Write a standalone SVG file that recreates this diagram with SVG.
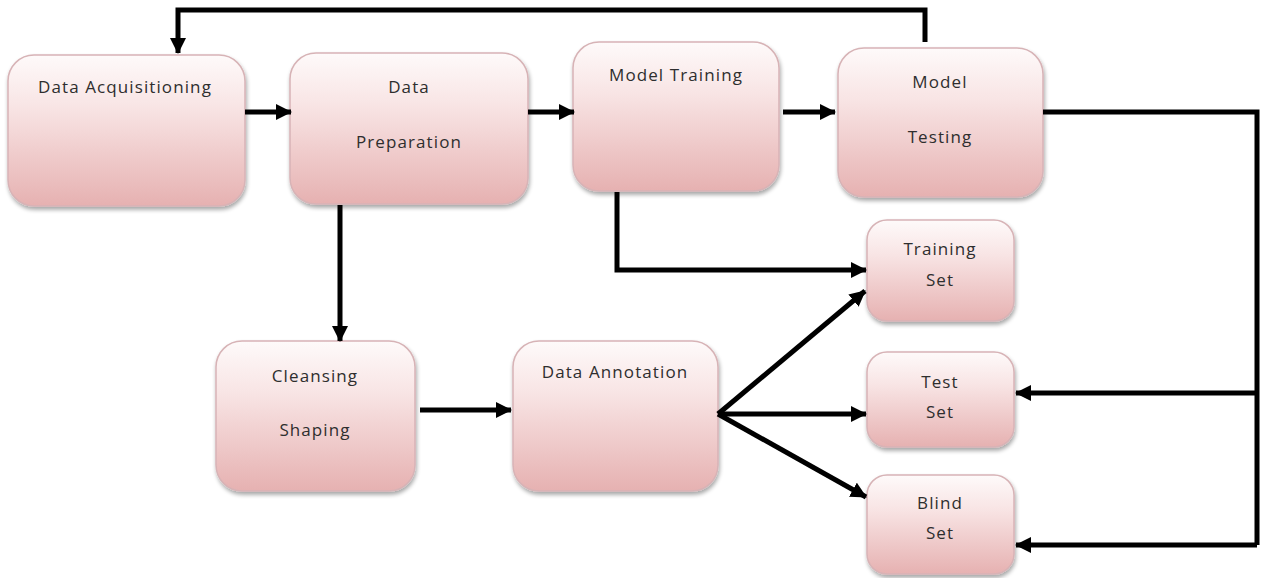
<svg xmlns="http://www.w3.org/2000/svg" width="1262" height="578" viewBox="0 0 1262 578">
<defs>
<linearGradient id="g" x1="0" y1="0" x2="0" y2="1">
<stop offset="0" stop-color="#fefafa"/>
<stop offset="0.35" stop-color="#f8e4e4"/>
<stop offset="1" stop-color="#e6b1b1"/>
</linearGradient>
<filter id="sh" x="-10%" y="-10%" width="120%" height="130%">
<feGaussianBlur in="SourceAlpha" stdDeviation="2"/>
<feOffset dx="1" dy="3"/>
<feComponentTransfer><feFuncA type="linear" slope="0.35"/></feComponentTransfer>
<feMerge><feMergeNode/><feMergeNode in="SourceGraphic"/></feMerge>
</filter>
<marker id="ah" markerUnits="userSpaceOnUse" markerWidth="16" markerHeight="16" viewBox="0 0 16 16" refX="15" refY="8" orient="auto">
<path d="M0,0 L16,8 L0,16 Z" fill="#000"/>
</marker>
</defs>
<style>
.box{fill:url(#g);stroke:#d7b3b6;stroke-width:1.5;filter:url(#sh)}
.t{font-family:"Open Sans","Liberation Sans",sans-serif;font-size:17px;fill:#2e2e2e;text-anchor:middle;letter-spacing:1.1px}
.c{fill:none;stroke:#000;stroke-width:5}
.a{marker-end:url(#ah)}
</style>
<rect width="1262" height="578" fill="#fff"/>
<g id="n-acq"><rect class="box" x="8" y="55" width="237" height="151" rx="26"/><text class="t" x="125" y="93">Data Acquisitioning</text></g>
<g id="n-prep"><rect class="box" x="290" y="53" width="238" height="151" rx="26"/><text class="t" x="409" y="93">Data</text><text class="t" x="409" y="148">Preparation</text></g>
<g id="n-train"><rect class="box" x="573" y="42" width="206" height="149" rx="26"/><text class="t" x="676" y="81">Model Training</text></g>
<g id="n-test"><rect class="box" x="838" y="48" width="205" height="149" rx="26"/><text class="t" x="940" y="88">Model</text><text class="t" x="940" y="143">Testing</text></g>
<g id="n-trainset"><rect class="box" x="867" y="220" width="147" height="101" rx="20"/><text class="t" x="940" y="255">Training</text><text class="t" x="940" y="286">Set</text></g>
<g id="n-testset"><rect class="box" x="867" y="352" width="147" height="95" rx="20"/><text class="t" x="940" y="388">Test</text><text class="t" x="940" y="418">Set</text></g>
<g id="n-blindset"><rect class="box" x="867" y="475" width="147" height="99" rx="20"/><text class="t" x="940" y="509">Blind</text><text class="t" x="940" y="539">Set</text></g>
<g id="n-cleanse"><rect class="box" x="216" y="341" width="199" height="150" rx="26"/><text class="t" x="315" y="382">Cleansing</text><text class="t" x="315" y="436">Shaping</text></g>
<g id="n-annot"><rect class="box" x="513" y="341" width="205" height="150" rx="26"/><text class="t" x="615" y="378">Data Annotation</text></g>
<g id="connectors">
<path class="c a" d="M925,42 V10 H178 V53"/>
<path class="c a" d="M245,112 H291"/>
<path class="c a" d="M528,112 H574"/>
<path class="c a" d="M783,112 H835"/>
<path class="c a" d="M340,205 V341"/>
<path class="c a" d="M617,192 V270 H866"/>
<path class="c a" d="M420,410 H511"/>
<path class="c a" d="M718,414 L865,291"/>
<path class="c a" d="M718,414 H866"/>
<path class="c a" d="M718,414 L866,497"/>
<path class="c" d="M1043,112 H1257 V545"/>
<path class="c a" d="M1257,393 H1016"/>
<path class="c a" d="M1257,545 H1016"/>
</g>
</svg>
